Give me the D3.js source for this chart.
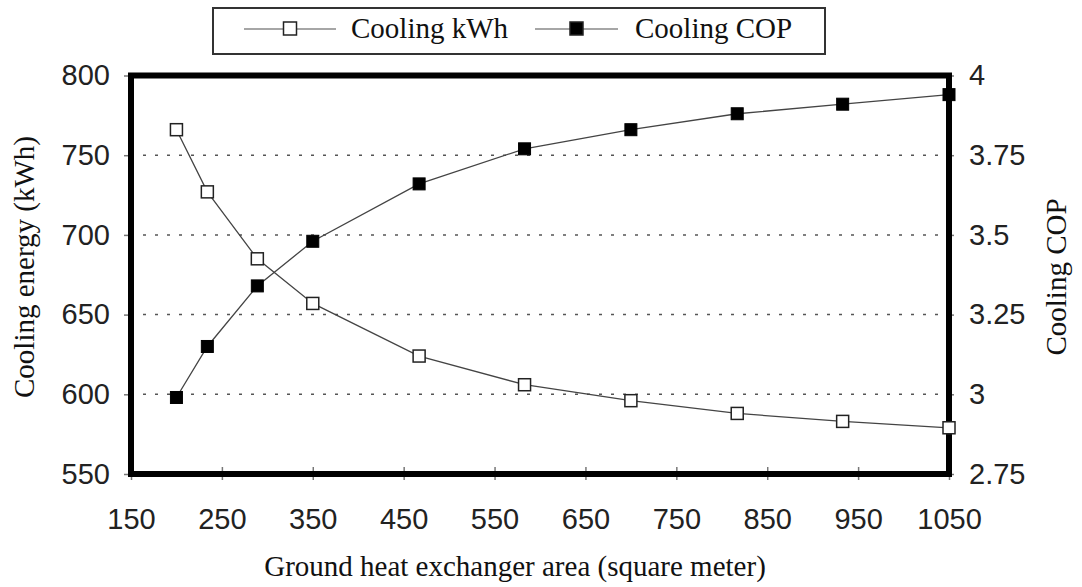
<!DOCTYPE html>
<html>
<head>
<meta charset="utf-8">
<script src="https://cdn.jsdelivr.net/npm/d3@7"></script>
<style>
  body { margin: 0; background: #fff; }
  svg { display: block; }
  .tick text { font-family: "Liberation Sans", Arial, sans-serif; font-size: 29px; fill: #222; }
  .title { font-family: "Liberation Serif", "Times New Roman", serif; font-size: 29px; fill: #111; }
</style>
</head>
<body>
<svg id="chart" width="1082" height="587"></svg>
<script>
// ground heat exchanger area (m2)
var area = [200, 234, 289, 350, 467, 583, 700, 817, 933, 1050];
var coolingKwh = [766, 727, 685, 657, 624, 606, 596, 588, 583, 579];
var coolingCop = [2.99, 3.15, 3.34, 3.48, 3.66, 3.77, 3.83, 3.88, 3.91, 3.94];

var xTicks = [150, 250, 350, 450, 550, 650, 750, 850, 950, 1050];
var leftTicks = [550, 600, 650, 700, 750, 800];
var rightTicks = [2.75, 3, 3.25, 3.5, 3.75, 4];
var gridTicks = [600, 650, 700, 750];

var svg = d3.select('svg#chart');

var x = d3.scaleLinear().domain([150, 1050]).range([131, 949]);
var yL = d3.scaleLinear().domain([550, 800]).range([474, 75.5]);
var yR = d3.scaleLinear().domain([2.75, 4]).range([474, 75.5]);

// dotted gridlines
svg.append('g').selectAll('line').data(gridTicks).enter().append('line')
  .attr('x1', x(150))
  .attr('x2', x(1050))
  .attr('y1', d => yL(d))
  .attr('y2', d => yL(d))
  .attr('stroke', '#555')
  .attr('stroke-width', 1.5)
  .attr('stroke-dasharray', '3,9');

// axes
var axL = svg.append('g')
  .attr('transform', 'translate(' + x(150) + ',0)')
  .call(d3.axisLeft(yL).tickValues(leftTicks).tickSize(7).tickPadding(14).tickFormat(d3.format('d')));

var axR = svg.append('g')
  .attr('transform', 'translate(' + x(1050) + ',0)')
  .call(d3.axisRight(yR).tickValues(rightTicks).tickSize(5).tickPadding(15).tickFormat(d => String(d)));

var axB = svg.append('g')
  .attr('transform', 'translate(0,' + yL(550) + ')')
  .call(d3.axisBottom(x).tickValues(xTicks).tickSize(6).tickPadding(28).tickFormat(d3.format('d')));

[axL, axR, axB].forEach(function(a) {
  a.select('.domain').remove();
  a.selectAll('.tick line').attr('stroke', '#777').attr('stroke-width', 1.5);
});
// bottom ticks cross the frame
axB.selectAll('.tick line').attr('y1', -7);

// frame
svg.append('rect')
  .attr('x', x(150))
  .attr('y', yL(800))
  .attr('width', x(1050) - x(150))
  .attr('height', yL(550) - yL(800))
  .attr('fill', 'none')
  .attr('stroke', '#000')
  .attr('stroke-width', 6);

// series lines
var pts = area.map((a, i) => ({a: a, kwh: coolingKwh[i], cop: coolingCop[i]}));

svg.append('path')
  .datum(pts)
  .attr('fill', 'none')
  .attr('stroke', '#444')
  .attr('stroke-width', 1.3)
  .attr('d', d3.line().x(d => x(d.a)).y(d => yL(d.kwh)));

svg.append('path')
  .datum(pts)
  .attr('fill', 'none')
  .attr('stroke', '#444')
  .attr('stroke-width', 1.3)
  .attr('d', d3.line().x(d => x(d.a)).y(d => yR(d.cop)));

var sq = 12;
svg.append('g').selectAll('rect').data(pts).enter().append('rect')
  .attr('x', d => x(d.a) - sq / 2)
  .attr('y', d => yL(d.kwh) - sq / 2)
  .attr('width', sq)
  .attr('height', sq)
  .attr('fill', '#fff')
  .attr('stroke', '#222')
  .attr('stroke-width', 1.5);

svg.append('g').selectAll('rect').data(pts).enter().append('rect')
  .attr('x', d => x(d.a) - sq / 2)
  .attr('y', d => yR(d.cop) - sq / 2)
  .attr('width', sq)
  .attr('height', sq)
  .attr('fill', '#000')
  .attr('stroke', '#000')
  .attr('stroke-width', 1);

// axis titles
svg.append('text')
  .attr('class', 'title')
  .attr('x', 515)
  .attr('y', 576)
  .attr('text-anchor', 'middle')
  .text('Ground heat exchanger area (square meter)');

svg.append('text')
  .attr('class', 'title')
  .attr('transform', 'translate(34,267) rotate(-90)')
  .attr('text-anchor', 'middle')
  .text('Cooling energy (kWh)');

svg.append('text')
  .attr('class', 'title')
  .attr('transform', 'translate(1066,277) rotate(-90)')
  .attr('text-anchor', 'middle')
  .text('Cooling COP');

// legend
var leg = svg.append('g');
leg.append('rect')
  .attr('x', 213).attr('y', 8)
  .attr('width', 612).attr('height', 46)
  .attr('fill', '#fff')
  .attr('stroke', '#333')
  .attr('stroke-width', 2);

var legItems = [
  {name: 'Cooling kWh', x1: 244, x2: 336, fill: '#fff', tx: 351},
  {name: 'Cooling COP', x1: 535, x2: 618, fill: '#000', tx: 635}
];
var li = leg.selectAll('g.item').data(legItems).enter().append('g');
li.append('line')
  .attr('x1', d => d.x1).attr('x2', d => d.x2)
  .attr('y1', 29).attr('y2', 29)
  .attr('stroke', '#888').attr('stroke-width', 1.5);
li.append('rect')
  .attr('x', d => (d.x1 + d.x2) / 2 - 6.5)
  .attr('y', 22)
  .attr('width', 13).attr('height', 13)
  .attr('fill', d => d.fill)
  .attr('stroke', '#222').attr('stroke-width', 1.5);
li.append('text')
  .attr('class', 'title')
  .attr('x', d => d.tx)
  .attr('y', 38)
  .text(d => d.name);
</script>
</body>
</html>
